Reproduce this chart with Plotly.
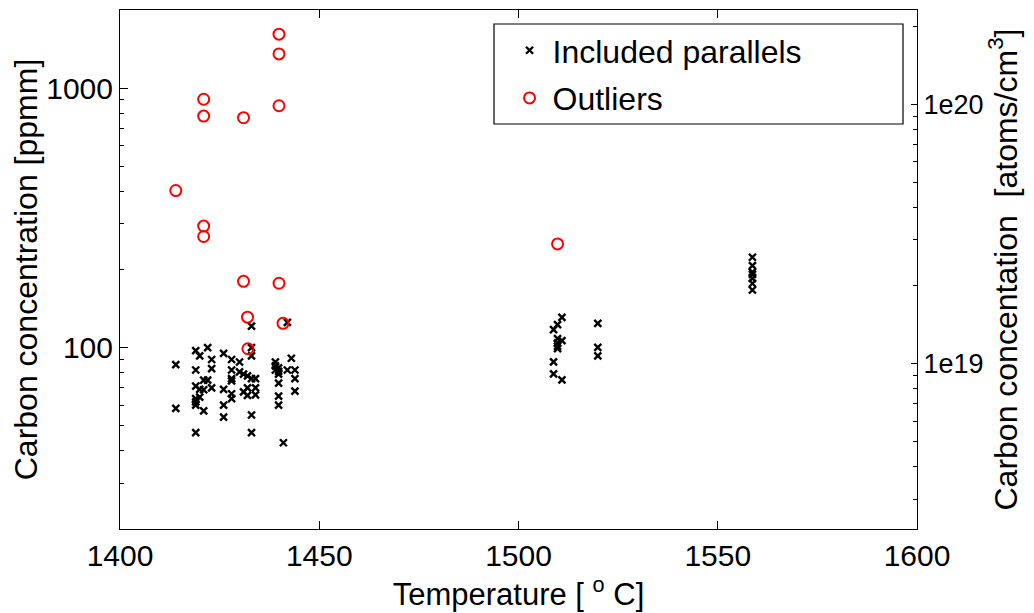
import math
import plotly.graph_objects as go

# ---------------- data ----------------
included_temp = [
    1414.0, 1414.0,
    1419.0, 1419.0, 1419.0, 1419.0, 1419.0, 1419.0, 1419.0,
    1420.0, 1420.0, 1420.0,
    1421.0, 1421.0, 1421.0,
    1422.0, 1422.0,
    1423.0, 1423.0, 1423.0,
    1426.0, 1426.0, 1426.0, 1426.0,
    1428.0, 1428.0, 1428.0, 1428.0, 1428.0, 1428.0,
    1430.0, 1430.0,
    1431.0, 1431.0,
    1432.0, 1432.0, 1432.0,
    1433.0, 1433.0, 1433.0, 1433.0, 1433.0, 1433.0,
    1434.0, 1434.0, 1434.0,
    1439.0, 1439.0, 1439.0,
    1439.8, 1439.8, 1439.8, 1439.8, 1439.8, 1439.8,
    1441.0,
    1442.0, 1442.0,
    1443.0,
    1443.9, 1443.9, 1443.9,
    1510.9, 1509.8, 1508.8, 1509.8, 1510.9, 1509.8, 1509.8, 1509.8, 1508.8, 1508.8, 1510.9,
    1519.9, 1519.9, 1519.9,
    1558.7, 1558.7, 1558.7, 1558.7, 1558.7, 1558.7, 1558.7,
]
included_ppmm = [
    86, 58.3,
    97.4, 82, 71, 63.6, 61.8, 60, 47,
    93, 69, 64.4,
    75, 68.8, 57,
    100, 75,
    90, 83, 70,
    95, 69, 60, 54,
    90, 82, 76, 74.5, 66.4, 63.6,
    88, 80.6,
    79, 67.5,
    77.8, 70, 65.5,
    121, 100, 93, 76, 55, 47,
    76, 70, 65.8,
    88, 85, 82,
    83.5, 81, 79, 73, 65, 60,
    43,
    125, 82,
    91,
    82, 76, 68,
    130.8, 122.6, 117.3, 108.3, 106.4, 104.2, 101.2, 99.1, 88.1, 79.2, 75.1,
    124, 100.3, 92.9,
    223, 207, 195.5, 191.4, 184.7, 176.6, 166.7,
]
outlier_temp = [1439.9, 1439.9, 1439.9, 1439.9, 1421.0, 1421.0, 1421.0, 1421.0,
                1431.0, 1431.0, 1414.0, 1432.0, 1440.9, 1432.1, 1509.8]
outlier_ppmm = [1614, 1355, 855, 177, 906, 780, 294, 268,
                769, 180, 403, 131, 124, 99, 251]

ppmm_to_atoms = 1.153e17  # conversion used for right axis
x_ticks = [1400, 1450, 1500, 1550, 1600]
left_ticks = [100, 1000]
right_ticks = [1e19, 1e20]
right_ticktext = ["1e19", "1e20"]

FONT = "Liberation Sans, Arial, Helvetica, sans-serif"

# the page body adds an 8 px offset; the figure is sized to fit the window
W, H = 1026, 605

fig = go.Figure()
fig.add_trace(go.Scatter(
    x=included_temp, y=included_ppmm, mode="markers", name="Included parallels",
    legendgroup="a",
    marker=dict(symbol="x-thin", size=7, color="black", line=dict(color="black", width=2.4)),
))
fig.add_trace(go.Scatter(
    x=outlier_temp, y=outlier_ppmm, mode="markers", name="Outliers",
    legendgroup="b",
    marker=dict(symbol="circle-open", size=11, color="red", line=dict(color="red", width=2)),
))
# same data on the atoms/cm3 axis (invisible), so the right axis is bound to data
fig.add_trace(go.Scatter(
    x=included_temp, y=[v * ppmm_to_atoms for v in included_ppmm], yaxis="y2",
    mode="markers", marker=dict(opacity=0), showlegend=False, hoverinfo="skip",
))

ylo, yhi = math.log10(20), math.log10(2000)
shift = math.log10(ppmm_to_atoms)

left_minor = [float(m) * 10.0 ** e for e in (1, 2) for m in range(2, 10)] + [2000.0]
right_minor = [float(m) * 10.0 ** e for e in (18, 19) for m in range(2, 10)] + [2e20]

fig.update_layout(
    width=W, height=H,
    margin=dict(l=112, r=117, t=2, b=84, autoexpand=False),
    paper_bgcolor="white", plot_bgcolor="white",
    font=dict(family=FONT, size=30, color="black"),
    showlegend=True,
    legend=dict(x=0.485, y=0.975, xanchor="left", yanchor="top",
                bgcolor="rgba(0,0,0,0)", borderwidth=0,
                font=dict(size=32), tracegroupgap=3, itemwidth=36),
    xaxis=dict(range=[1400, 1600], tickvals=x_ticks, ticks="inside", ticklen=8,
               tickcolor="black", showline=True, linecolor="black", linewidth=1,
               mirror="ticks", showgrid=False, zeroline=False, automargin=False,
               title=dict(text="Temperature [ <sup>o</sup> C]", font=dict(size=31), standoff=6)),
    yaxis=dict(type="log", range=[ylo, yhi], tickvals=left_ticks, ticks="inside",
               ticklen=8, tickcolor="black", showline=True, linecolor="black",
               linewidth=1, mirror=True, showgrid=False, zeroline=False, automargin=False,
               minor=dict(tickmode="array", tickvals=left_minor, ticks="inside",
                          ticklen=4, tickcolor="black", showgrid=False),
               title=dict(text="Carbon concentration [ppmm]", font=dict(size=32), standoff=0)),
    yaxis2=dict(type="log", overlaying="y", side="right", range=[ylo + shift, yhi + shift],
                tickvals=right_ticks, ticktext=right_ticktext, ticks="inside",
                ticklen=6, tickcolor="black", showline=True, linecolor="black",
                linewidth=1, showgrid=False, zeroline=False, automargin=False,
                tickfont=dict(size=27),
                minor=dict(tickmode="array", tickvals=right_minor, ticks="inside",
                           ticklen=4, tickcolor="black", showgrid=False),
                title=dict(text="Carbon concentation  [atoms/cm<sup>3</sup>]",
                           font=dict(size=32), standoff=4)),
    shapes=[dict(type="rect", xref="paper", yref="paper",
                 x0=(494 - 120) / 797, x1=(903 - 120) / 797,
                 y0=(529 - 124) / 519, y1=(529 - 24) / 519,
                 line=dict(color="black", width=1.2), fillcolor="white", layer="below")],
)

fig.write_html("out.html")
